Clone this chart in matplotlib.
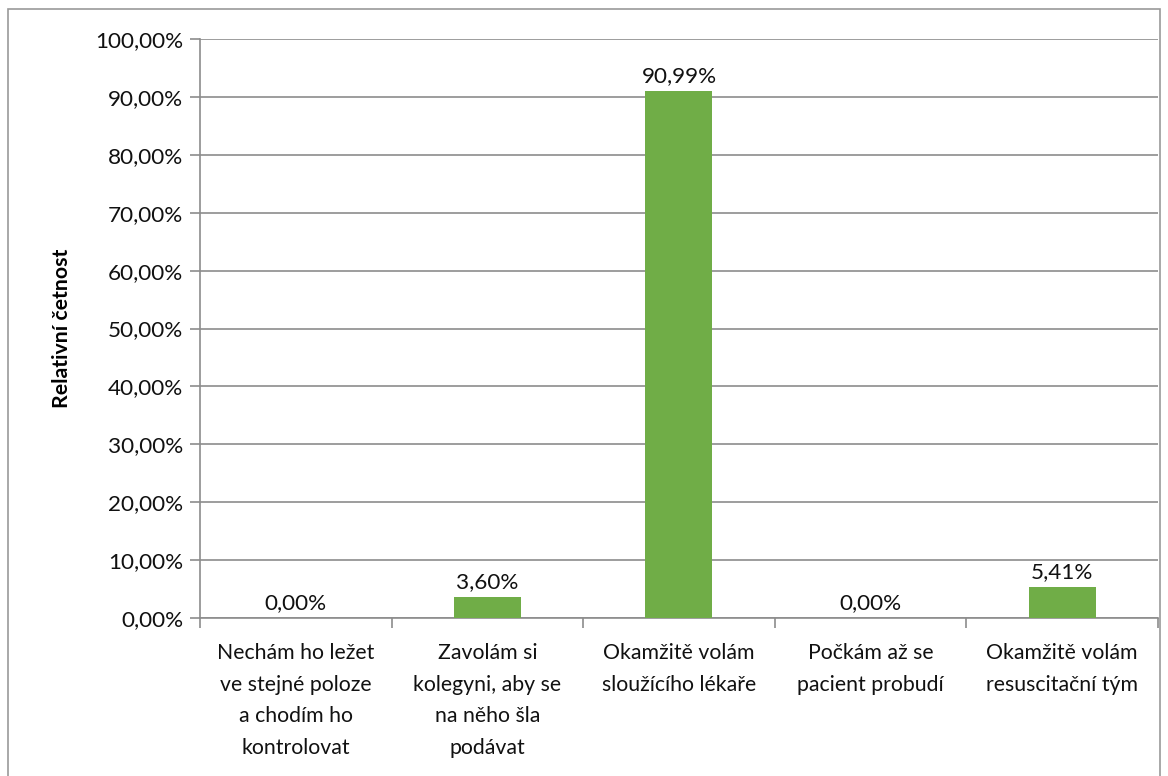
import matplotlib
matplotlib.use("Agg")
import matplotlib.pyplot as plt
from matplotlib.patches import Rectangle

categories = [
    "Nechám ho ležet\nve stejné poloze\na chodím ho\nkontrolovat",
    "Zavolám si\nkolegyni, aby se\nna něho šla\npodávat",
    "Okamžitě volám\nsloužícího lékaře",
    "Počkám až se\npacient probudí",
    "Okamžitě volám\nresuscitační tým",
]
values = [0.00, 3.60, 90.99, 0.00, 5.41]
yticks = list(range(0, 101, 10))

plt.rcParams["font.family"] = ["Lato", "DejaVu Sans"]
GRID = "#8c8c8c"
FS = 15.3
FS_NUM = 16.2

fig = plt.figure(figsize=(11.68, 7.76), dpi=100)
ax = fig.add_axes([0.1712, 0.2036, 0.8202, 0.7461])

x = range(len(values))
ax.bar(x, values, width=0.35, color="#70ad47", zorder=3)
for xi, v in zip(x, values):
    ax.text(xi, v + 0.8, f"{v:.2f}%".replace(".", ","), ha="center",
            va="bottom", fontsize=FS_NUM, color="#111111", zorder=4)

ax.set_xlim(-0.5, len(values) - 0.5)
ax.set_ylim(0, 100)
ax.set_yticks(yticks)
ax.set_yticklabels([f"{t:.2f}%".replace(".", ",") for t in yticks],
                   fontsize=FS_NUM, color="#111111")
ax.yaxis.grid(True, color=GRID, lw=1.2, zorder=0)
ax.set_axisbelow(True)

ax.set_xticks(list(x))
ax.set_xticklabels(categories, fontsize=FS, color="#111111",
                   linespacing=1.72, va="top")
ax.tick_params(axis="x", length=0, pad=18)
ax.set_xticks([i - 0.5 for i in range(len(values) + 1)], minor=True)
ax.tick_params(axis="x", which="minor", length=7, color=GRID, width=1.2)
ax.tick_params(axis="y", length=7, color=GRID, width=1.2, pad=5)

for s in ("top", "right"):
    ax.spines[s].set_visible(False)
for s in ("left", "bottom"):
    ax.spines[s].set_color(GRID)
    ax.spines[s].set_linewidth(1.2)

ax.set_ylabel("Relativní četnost", fontsize=FS, fontweight="bold",
              labelpad=17)

fig.patches.append(Rectangle((0.007, -0.01), 0.986, 0.998,
                             transform=fig.transFigure, fill=False,
                             edgecolor="#9a9a9a", lw=1.2))

fig.savefig("out.png", dpi=100)
